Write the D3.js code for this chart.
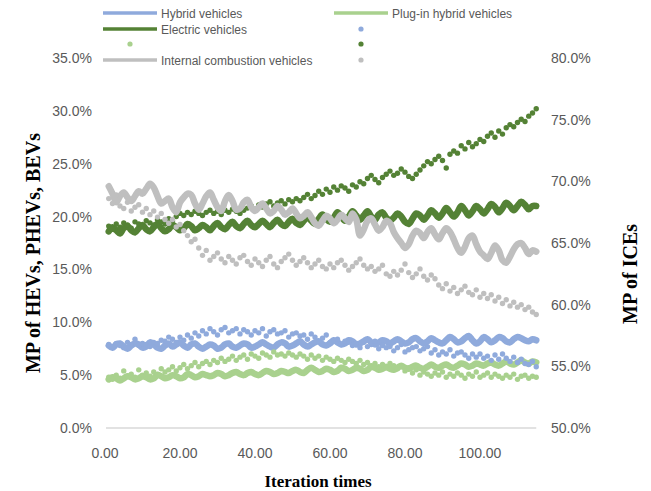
<!DOCTYPE html>
<head>
  <meta charset="utf-8">
  <script src="https://d3js.org/d3.v7.min.js"></script>
  <style>
    body { margin: 0; background: #fff; }
    text { font-family: "Liberation Sans", Arial, sans-serif; fill: #595959; }
    text.tick { font-size: 14px; }
    text.legend { font-size: 12px; }
    text.title { font-family: "Liberation Serif", "Times New Roman", serif; font-weight: bold; fill: #000; }
  </style>
</head>
<body>
<script>
  const width = 651, height = 491;

  // iteration index 1..115
  const iterations = d3.range(1, 116);

  // left axis series (%), lines
  const hevLine = [7.8,7.6,7.9,8.0,7.7,7.5,7.8,8.0,7.9,7.6,7.7,8.1,7.9,7.6,7.5,7.8,8.0,7.7,7.9,8.1,7.8,7.6,7.9,8.0,7.7,
    7.5,7.7,7.9,7.8,7.5,7.6,7.9,8.0,7.7,7.6,7.8,8.0,7.9,7.6,7.7,7.9,8.1,7.9,7.7,7.6,7.9,8.1,8.0,7.7,7.8,
    8.0,8.2,7.9,7.7,7.9,8.1,8.2,7.9,7.8,8.0,8.3,8.1,7.9,8.0,8.3,8.2,7.9,8.0,8.2,8.4,8.1,7.9,8.1,8.3,8.2,
    8.0,8.2,8.4,8.2,8.0,8.1,8.4,8.5,8.2,8.0,8.2,8.5,8.3,8.1,8.0,8.3,8.6,8.4,8.1,8.2,8.5,8.7,8.3,8.0,8.2,
    8.6,8.4,8.1,8.3,8.6,8.5,8.2,8.1,8.4,8.6,8.5,8.3,8.2,8.4,8.3];
  const phevLine = [4.6,4.8,4.7,4.5,4.7,4.9,4.8,4.6,4.7,4.9,4.8,4.6,4.7,5.0,4.9,4.7,4.8,5.0,4.9,4.7,4.8,5.1,5.0,4.8,4.9,
    5.1,5.0,4.9,5.0,5.2,5.1,4.9,5.0,5.2,5.3,5.1,5.0,5.2,5.3,5.1,5.0,5.2,5.4,5.3,5.1,5.2,5.4,5.3,5.2,5.4,
    5.5,5.3,5.2,5.5,5.7,5.5,5.3,5.4,5.6,5.5,5.3,5.4,5.7,5.6,5.4,5.5,5.7,5.6,5.4,5.5,5.8,5.7,5.5,5.6,5.8,
    5.6,5.5,5.7,5.9,5.7,5.6,5.8,5.9,5.7,5.6,5.8,6.0,5.8,5.7,5.9,6.0,5.8,5.7,5.9,6.1,6.0,5.8,5.9,6.1,6.0,
    5.9,6.1,6.2,6.0,5.9,6.1,6.3,6.1,6.0,6.2,6.4,6.2,6.1,6.3,6.2];
  const bevLine = [18.6,19.0,18.7,18.4,18.9,19.1,18.7,18.5,18.9,19.2,18.8,18.6,19.0,19.3,18.9,18.6,18.8,19.2,19.0,18.7,18.9,19.3,19.1,18.7,18.9,
    19.2,19.0,18.7,19.1,19.4,19.0,18.8,19.2,19.5,19.1,18.9,19.3,19.6,19.2,19.0,19.3,19.6,19.3,19.0,19.4,19.7,19.3,19.1,19.5,19.8,
    19.4,19.2,19.6,20.0,19.6,19.3,19.8,20.2,19.8,19.5,19.9,20.4,20.0,19.6,20.0,20.5,20.1,19.7,20.1,20.5,20.0,19.7,20.2,20.4,19.9,
    19.6,19.9,20.3,20.0,19.5,19.3,19.8,20.3,20.1,19.7,20.1,20.6,20.3,19.9,20.3,20.8,20.4,20.0,20.4,21.0,20.6,20.1,20.5,21.0,20.7,
    20.3,20.7,21.2,20.9,20.4,20.8,21.3,21.0,20.6,21.0,21.4,21.1,20.7,21.0,21.0];

  // left axis series (%), points
  const hevDots = [7.9,7.7,8.0,7.8,7.6,8.1,7.9,8.4,7.8,8.0,7.9,7.7,8.1,8.0,8.3,8.2,8.6,8.4,8.1,8.6,8.3,8.8,8.5,9.0,8.7,
    9.2,8.9,9.4,9.1,8.8,9.3,9.5,9.0,9.2,9.4,8.9,9.3,9.1,8.8,9.2,9.0,9.4,8.7,9.1,9.3,8.9,9.0,9.2,8.6,8.9,
    9.0,8.7,8.8,8.4,8.9,8.6,8.2,8.5,8.8,8.1,8.3,8.4,7.9,8.2,8.1,7.8,8.0,7.6,8.1,7.7,7.9,8.2,7.5,7.8,7.6,
    7.7,7.3,7.6,7.9,7.2,7.4,7.6,7.7,7.3,7.5,7.7,7.1,7.4,6.9,7.2,7.0,7.4,6.8,7.1,7.2,6.9,6.6,7.0,6.7,7.0,
    6.6,6.8,6.4,6.9,6.5,7.0,6.6,6.3,6.7,6.2,6.5,6.1,6.0,6.3,5.8];
  const phevDots = [4.8,4.6,5.0,4.7,5.4,4.9,5.1,4.8,5.5,5.0,5.2,4.9,5.3,5.1,5.6,5.3,5.5,5.8,5.4,5.7,6.0,5.6,5.9,6.2,5.8,
    6.1,6.3,6.0,6.4,6.2,6.6,6.3,6.5,6.8,6.4,6.7,6.9,6.5,7.0,6.8,6.6,7.1,6.9,6.7,7.2,6.9,7.0,6.8,7.1,6.9,
    6.7,7.0,6.8,6.5,6.9,6.6,6.8,6.4,6.7,6.5,6.3,6.6,6.4,6.2,6.5,6.3,6.1,6.4,6.0,6.2,5.9,6.1,5.8,6.0,5.7,
    6.1,5.9,5.6,5.8,5.4,5.7,5.2,5.5,5.0,5.3,5.1,4.9,5.2,5.0,5.3,4.8,5.1,4.9,5.2,5.0,4.7,5.1,4.9,5.3,4.8,
    5.0,5.2,4.8,5.1,4.9,4.7,5.0,4.8,5.1,4.6,4.9,5.0,4.7,4.9,4.8];
  const bevDots = [19.1,18.8,19.3,19.0,19.4,19.2,18.9,19.5,19.3,19.1,19.6,19.4,19.2,19.7,19.5,19.3,19.8,19.6,20.0,20.3,20.1,20.4,20.2,20.5,20.3,
    20.1,20.4,20.6,20.3,20.5,20.2,20.6,20.4,20.7,20.5,20.3,20.6,20.8,21.0,20.7,21.1,20.9,21.2,21.4,21.0,21.3,21.5,21.2,21.6,21.4,
    21.7,21.5,21.8,22.1,21.7,22.0,22.4,22.1,22.6,22.3,22.8,22.5,22.9,22.7,22.4,23.0,22.8,23.3,23.1,23.6,23.9,23.5,23.2,23.7,24.0,
    24.3,23.9,24.1,24.5,24.2,23.8,23.6,24.0,24.4,24.8,25.2,25.0,25.4,25.7,25.3,24.6,25.9,26.2,26.0,26.7,26.4,27.0,26.6,26.9,27.3,
    27.1,27.6,27.9,27.5,28.1,27.8,28.4,28.7,28.5,28.9,29.2,29.0,29.5,29.8,30.2];

  // right axis series (%)
  const iceLine = [69.6,69.0,68.3,68.8,69.1,68.7,68.4,68.8,69.2,69.0,69.4,69.8,69.5,68.8,68.2,68.4,68.6,67.9,67.5,68.3,68.7,69.0,68.9,68.2,67.7,
    68.2,68.8,69.1,68.5,67.9,67.6,68.4,68.9,68.4,67.7,67.8,68.3,68.5,67.9,67.6,67.9,68.2,67.8,67.4,67.6,68.0,67.7,67.3,67.5,67.8,
    67.4,67.0,67.2,67.5,67.1,66.6,66.4,66.8,67.2,67.0,66.6,66.9,67.3,67.0,66.7,67.4,66.9,65.6,66.1,66.8,67.0,66.5,66.0,66.3,66.8,
    66.6,65.9,65.4,65.0,64.6,64.9,65.6,66.0,65.8,65.4,65.9,66.2,65.7,65.3,65.8,66.2,65.9,65.3,64.6,64.2,64.7,65.4,65.6,64.9,64.3,
    64.0,63.7,64.2,64.8,64.4,63.6,63.4,63.9,64.5,64.9,65.0,64.6,64.1,64.4,64.3];
  const iceDots = [68.6,68.2,68.9,68.0,67.8,68.3,67.6,67.9,68.1,67.5,67.8,67.3,67.6,67.1,67.4,66.9,66.6,66.9,66.3,66.5,66.0,65.6,65.1,65.3,64.6,
    64.0,64.4,63.6,63.9,64.2,63.7,63.4,63.9,63.6,63.3,63.8,64.0,63.5,63.2,63.7,63.4,63.1,63.6,63.9,63.3,63.0,63.5,63.8,64.1,63.6,
    63.2,63.5,63.8,63.4,63.0,63.3,63.6,63.1,62.9,63.3,63.0,63.4,63.6,63.2,62.8,63.1,63.4,63.7,63.2,62.9,63.1,62.7,62.9,63.2,62.5,
    62.3,62.7,62.4,62.8,63.3,62.6,62.2,62.5,62.9,62.3,62.0,62.4,62.1,61.6,61.3,61.7,61.1,61.4,60.9,61.2,61.5,61.0,60.8,61.2,60.6,
    60.9,60.5,60.8,60.3,60.6,60.1,60.4,59.9,60.2,59.8,60.0,59.6,59.8,59.4,59.2];

  const xTicks = [0, 20, 40, 60, 80, 100];
  const leftTicks = [0, 5, 10, 15, 20, 25, 30, 35];
  const rightTicks = [50, 55, 60, 65, 70, 75, 80];

  const colors = { hev: "#8faadc", phev: "#a9d18e", bev: "#548235", ice: "#bfbfbf" };

  const svg = d3.select("body").append("svg")
    .attr("width", width)
    .attr("height", height);

  const x = d3.scaleLinear().domain([0, 115]).range([105, 536.25]);
  const yL = d3.scaleLinear().domain([0, 35]).range([428, 58]);
  const yR = d3.scaleLinear().domain([50, 80]).range([428, 58]);

  // axis line
  svg.append("line")
    .attr("x1", x(0) + 1).attr("x2", x(115))
    .attr("y1", yL(0)).attr("y2", yL(0))
    .attr("stroke", "#d9d9d9").attr("stroke-width", 1.5);

  svg.selectAll("text.xt").data(xTicks).enter().append("text")
    .attr("class", "tick xt")
    .attr("x", d => x(d)).attr("y", 458)
    .attr("text-anchor", "middle")
    .text(d => d3.format(".2f")(d));

  svg.selectAll("text.yl").data(leftTicks).enter().append("text")
    .attr("class", "tick yl")
    .attr("x", 92).attr("y", d => yL(d) + 5)
    .attr("text-anchor", "end")
    .text(d => d.toFixed(1) + "%");

  svg.selectAll("text.yr").data(rightTicks).enter().append("text")
    .attr("class", "tick yr")
    .attr("x", 551).attr("y", d => yR(d) + 5)
    .text(d => d.toFixed(1) + "%");

  const line = y => d3.line()
    .x((d, i) => x(iterations[i]))
    .y(d => y(d))
    .curve(d3.curveCatmullRom);

  const drawLine = (vals, y, color) => svg.append("path")
    .datum(vals)
    .attr("fill", "none")
    .attr("stroke", color)
    .attr("stroke-width", 6.5)
    .attr("stroke-linejoin", "round")
    .attr("stroke-linecap", "round")
    .attr("d", line(y));

  const drawDots = (vals, y, color) => svg.append("g")
    .selectAll("circle").data(vals).enter().append("circle")
    .attr("cx", (d, i) => x(iterations[i]))
    .attr("cy", d => y(d))
    .attr("r", 2.7)
    .attr("fill", color);

  drawLine(hevLine, yL, colors.hev);
  drawLine(phevLine, yL, colors.phev);
  drawLine(bevLine, yL, colors.bev);
  drawDots(hevDots, yL, colors.hev);
  drawDots(phevDots, yL, colors.phev);
  drawDots(bevDots, yL, colors.bev);
  drawLine(iceLine, yR, colors.ice);
  drawDots(iceDots, yR, colors.ice);

  // legend
  const legend = [
    { col: 0, row: 0, type: "line", color: colors.hev, label: "Hybrid vehicles" },
    { col: 1, row: 0, type: "line", color: colors.phev, label: "Plug-in hybrid vehicles" },
    { col: 0, row: 1, type: "line", color: colors.bev, label: "Electric vehicles" },
    { col: 1, row: 1, type: "dot", color: colors.hev, label: "" },
    { col: 0, row: 2, type: "dot", color: colors.phev, label: "" },
    { col: 1, row: 2, type: "dot", color: colors.bev, label: "" },
    { col: 0, row: 3, type: "line", color: colors.ice, label: "Internal combustion vehicles" },
    { col: 1, row: 3, type: "dot", color: colors.ice, label: "" }
  ];
  const colX = [103, 334], rowY = [13, 29, 44, 60];
  const lg = svg.append("g").selectAll("g").data(legend).enter().append("g")
    .attr("transform", d => `translate(${colX[d.col]},${rowY[d.row]})`);
  lg.filter(d => d.type === "line").append("line")
    .attr("x1", 0).attr("x2", 54).attr("y1", 0).attr("y2", 0)
    .attr("stroke", d => d.color).attr("stroke-width", 3.5);
  lg.filter(d => d.type === "dot").append("circle")
    .attr("cx", 27).attr("cy", 0).attr("r", 2.6)
    .attr("fill", d => d.color);
  lg.append("text")
    .attr("class", "legend")
    .attr("x", 58).attr("y", 4.5)
    .text(d => d.label);

  // axis titles
  svg.append("text")
    .attr("class", "title")
    .attr("x", 318).attr("y", 487)
    .attr("text-anchor", "middle")
    .style("font-size", "17px")
    .text("Iteration times");

  svg.append("text")
    .attr("class", "title")
    .attr("transform", "translate(40,253) rotate(-90)")
    .attr("text-anchor", "middle")
    .style("font-size", "20px")
    .text("MP of HEVs, PHEVs, BEVs");

  svg.append("text")
    .attr("class", "title")
    .attr("transform", "translate(637,274) rotate(-90)")
    .attr("text-anchor", "middle")
    .style("font-size", "20px")
    .text("MP of ICEs");
</script>
</body>
